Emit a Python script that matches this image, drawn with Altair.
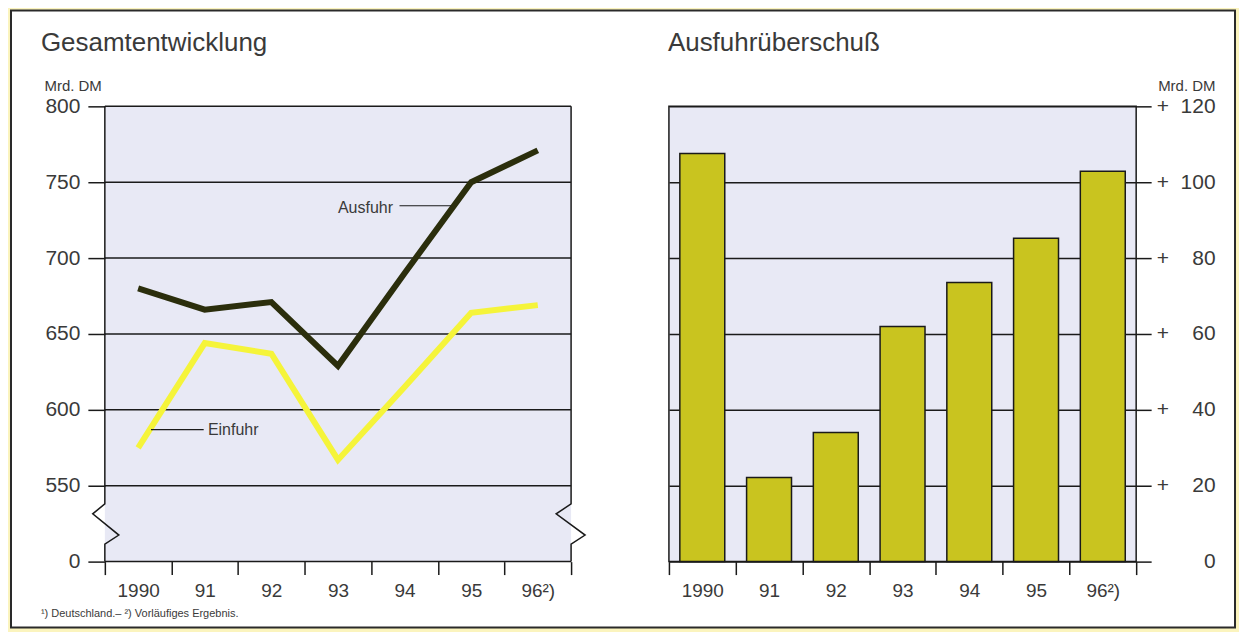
import altair as alt
import pandas as pd

# ---------------- data ----------------
years = ["1990", "91", "92", "93", "94", "95", "96²)"]
ausfuhr = [680, 666, 671, 629, 690, 750, 771]
einfuhr = [575, 644, 637, 567, 615, 664, 669]
ueberschuss = [107.6, 22.2, 34.0, 62.0, 73.6, 85.2, 102.9]
left_ticks = [500, 550, 600, 650, 700, 750, 800]
right_ticks = [0, 20, 40, 60, 80, 100, 120]
series_names = ["Ausfuhr", "Einfuhr"]
series_colors = ["#2B2E0C", "#F5F43A"]

# ---------------- style ----------------
FONT = "Liberation Sans"
TXT = "#3a3a3a"
INK = "#1a1a1a"
YELLOW = "#FBF4BE"
LAVENDER = "#E8E9F5"
BAR = "#C9C41F"
W_L, W_R, H = 467, 468, 456

y_left = alt.Scale(domain=[500, 800], nice=False, zero=False)
px = alt.Scale(domain=[0, 1], nice=False, zero=False)

AXL = alt.Axis(values=left_ticks,
               labelExpr="datum.value == 500 ? '0' : datum.label",
               tickSize=17, tickColor=INK, tickWidth=1.5, domain=False,
               grid=False, labelFontSize=21, labelFont=FONT, labelColor=TXT,
               labelPadding=8, title="Mrd. DM", titleAngle=0, titleAlign="left",
               titleBaseline="alphabetic", titleX=-61, titleY=-16,
               titleFontSize=15, titleFontWeight="normal", titleFont=FONT,
               titleColor=TXT, zindex=1)


def yl(field):
    return alt.Y(field, scale=y_left, axis=AXL)


def txt(text, x, y, size, align="left", baseline="alphabetic", color=TXT):
    return alt.Chart(pd.DataFrame({"t": [text]})).mark_text(
        align=align, baseline=baseline, fontSize=size, font=FONT, color=color
    ).encode(x=alt.value(x), y=alt.value(y), text="t:N")


# ---------------- left chart ----------------
lines_df = pd.DataFrame({
    "Jahr": years * 2,
    "Wert": ausfuhr + einfuhr,
    "Reihe": [series_names[0]] * len(years) + [series_names[1]] * len(years),
})

panel = alt.Chart(pd.DataFrame({"a": [0]})).mark_rect(
    fill="white", stroke="#2a2a2a", strokeWidth=2
).encode(x=alt.value(-94), x2=alt.value(1132), y=alt.value(-96), y2=alt.value(522))

plot_bg = alt.Chart(pd.DataFrame({"a": [0], "b": [1], "lo": [500], "hi": [800]})).mark_rect(
    fill=LAVENDER
).encode(
    x=alt.X("a:Q", scale=px, axis=None), x2="b:Q",
    y=yl("lo:Q"), y2="hi:Q",
)

grid = alt.Chart(pd.DataFrame({"v": left_ticks, "a": 0, "b": 1})).mark_rule(
    color=INK, strokeWidth=1.5
).encode(
    x=alt.X("a:Q", scale=px, axis=None), x2="b:Q",
    y=yl("v:Q"),
)

# frame sides with axis-break zigzags (x in plot fractions, y in data units)
frame_df = pd.DataFrame({
    "p": [0, 0, -0.026, 0.030, 0, 0, 1, 1, 1 - 0.032, 1.030, 1, 1],
    "v": [800, 538, 531.5, 517.5, 511.5, 500] * 2,
    "side": ["l"] * 6 + ["r"] * 6,
    "o": list(range(6)) * 2,
})
frame = alt.Chart(frame_df).mark_line(color=INK, strokeWidth=1.5).encode(
    x=alt.X("p:Q", scale=px, axis=None),
    y=yl("v:Q"),
    detail="side:N", order="o:Q",
)

lines = alt.Chart(lines_df).mark_line(strokeWidth=6, strokeJoin="miter").encode(
    x=alt.X("Jahr:O", sort=years,
            scale=alt.Scale(type="band", domain=years, paddingInner=0, paddingOuter=0),
            axis=alt.Axis(tickBand="extent", tickSize=13, tickColor=INK, tickWidth=1.5,
                          domain=False, labelAngle=0, labelFontSize=19, labelFont=FONT,
                          labelColor=TXT, labelPadding=7, title=None, zindex=1)),
    y=yl("Wert:Q"),
    color=alt.Color("Reihe:N", scale=alt.Scale(domain=series_names, range=series_colors),
                    legend=None),
    detail="Reihe:N",
)

lead_df = pd.DataFrame({"a": [0.632, 0.099], "b": [0.743, 0.212], "v": [734.5, 587.0]})
leaders = alt.Chart(lead_df).mark_rule(color=INK, strokeWidth=1.2).encode(
    x=alt.X("a:Q", scale=px, axis=None), x2="b:Q",
    y=yl("v:Q"),
)
lab_df = pd.DataFrame({"t": series_names, "a": [0.500, 0.221], "v": [733.0, 586.5]})
labels = alt.Chart(lab_df).mark_text(
    align="left", baseline="middle", fontSize=16, font=FONT, color=TXT
).encode(
    x=alt.X("a:Q", scale=px, axis=None),
    y=yl("v:Q"),
    text="t:N",
)

left = alt.layer(
    panel, plot_bg, grid, frame, lines, leaders, labels,
    txt("Gesamtentwicklung", -64, -55, 26),
    txt("¹) Deutschland.– ²) Vorläufiges Ergebnis.", -64, 508, 11, baseline="middle"),
).resolve_scale(x="independent").properties(
    width=W_L, height=H, view=alt.ViewBackground(stroke="transparent")
)

# ---------------- right chart ----------------
bars_df = pd.DataFrame({"Jahr": years, "Wert": ueberschuss})
right_label_expr = (
    "datum.value == 0 ? '0' : (datum.value >= 100 ? '+\u00a0\u00a0' + datum.label"
    " : '+\u00a0\u00a0\u2007' + datum.label)"
)
bars = alt.Chart(bars_df).mark_bar(size=45, color=BAR, stroke=INK, strokeWidth=1.5).encode(
    x=alt.X("Jahr:O", sort=years,
            scale=alt.Scale(type="band", domain=years, paddingInner=0, paddingOuter=0),
            axis=alt.Axis(tickBand="extent", tickSize=13, tickColor=INK, tickWidth=1.5,
                          domain=False, labelAngle=0, labelFontSize=19, labelFont=FONT,
                          labelColor=TXT, labelPadding=7, title=None)),
    y=alt.Y("Wert:Q", scale=alt.Scale(domain=[0, 120], nice=False),
            axis=alt.Axis(orient="right", values=right_ticks, labelExpr=right_label_expr,
                          grid=True, gridColor=INK, gridWidth=1.5, tickSize=15,
                          tickColor=INK, tickWidth=1.5, domain=False, labelAlign="right",
                          labelPadding=64, labelFontSize=21, labelFont=FONT,
                          labelColor=TXT, title="Mrd. DM", titleAngle=0,
                          titleAlign="right", titleBaseline="alphabetic", titleX=79,
                          titleY=-16, titleFontSize=15, titleFontWeight="normal",
                          titleFont=FONT, titleColor=TXT)),
)

right = alt.layer(
    bars,
    txt("Ausfuhrüberschuß", -1, -55, 26),
).properties(
    width=W_R, height=H,
    view=alt.ViewBackground(fill=LAVENDER, stroke=INK, strokeWidth=1.5),
)

chart = alt.hconcat(
    left, right, spacing=98, bounds="flush",
    padding={"left": 1, "top": 0, "right": 2, "bottom": 2},
).configure(background=YELLOW)

chart.save("out.html", embed_options={"renderer": "svg", "actions": False})
